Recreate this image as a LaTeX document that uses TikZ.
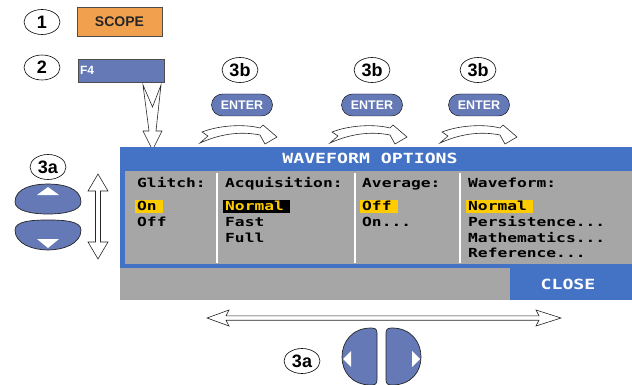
\documentclass[tikz,border=0pt]{standalone}
\usepackage{fontspec}
\setmainfont{Liberation Sans}
\newfontfamily\lcdfont{DejaVu Sans Mono}[FakeStretch=1.3]
\usetikzlibrary{shapes.geometric}
\definecolor{keyblue}{RGB}{100,121,181}
\definecolor{keyorange}{RGB}{241,160,78}
\definecolor{scrblue}{RGB}{68,114,196}
\definecolor{scrgray}{RGB}{166,166,166}
\definecolor{hlyellow}{RGB}{255,204,0}
\tikzset{
  stepmark/.style={ellipse,draw,semithick,fill=white,minimum width=36pt,minimum height=25pt,inner sep=0pt,font=\fontsize{18}{18}\selectfont\bfseries},
  enterkey/.style={draw,fill=keyblue,rounded corners=11pt,minimum width=61pt,minimum height=22pt,inner sep=0pt,text=white,font=\fontsize{12.5}{12.5}\selectfont\bfseries},
  hollow/.style={draw=black!85,fill=white,line width=0.6pt,line join=miter},
  navkey/.style={draw=black!85,fill=keyblue,line width=0.7pt},
  lcd/.style={anchor=base west,inner xsep=2.5pt,inner ysep=0pt,text height=11.3pt,text depth=1.7pt,font=\lcdfont\fontsize{12.5}{14}\selectfont\bfseries},
  hl/.style={lcd,fill=hlyellow,execute at end node=\kern4pt},
  bentarrow/.pic={\draw[hollow](2,7)..controls(20,0)and(45,-1)..(60,3)--(63,0)--(77,12)--(65,19)--(60,10)..controls(40,6)and(20,9)..(0,18)--(8,11)--cycle;}
}
\begin{document}
\begin{tikzpicture}[x=1pt,y=-1pt]
  \useasboundingbox(0,0)rectangle(632,385);

  \node[stepmark](one)at(42,22){1};
  \node[draw=black!70,fill=keyorange,minimum width=85pt,minimum height=29pt,inner sep=0pt,text=black!85,font=\fontsize{14}{14}\selectfont\bfseries](scope)at(119.5,21.5){SCOPE};
  \node[stepmark](two)at(42,67.5){2};
  \node[draw=black!70,fill=keyblue,minimum width=86pt,minimum height=23pt,inner sep=0pt](ffour)at(121,70.5){};
  \node[anchor=west,inner sep=2pt,text=white,font=\fontsize{12}{12}\selectfont\bfseries](ffourlabel)at(ffour.west){F4};
  \draw[hollow](143,85)--(152.5,107)--(161,85)--(156,131)--(162,131)--(152.5,150)--(143,131)--(149,131)--cycle;

  \node[stepmark](stepb1)at(240,70){3b};
  \node[stepmark](stepb2)at(372,70){3b};
  \node[stepmark](stepb3)at(478,70){3b};
  \node[enterkey](enter1)at(242,105){ENTER};
  \node[enterkey](enter2)at(372,105){ENTER};
  \node[enterkey](enter3)at(479,105){ENTER};
  \pic at(200,125){bentarrow};
  \pic at(330,125){bentarrow};
  \pic at(440,125){bentarrow};

  % screen
  \fill[scrblue](120,147)rectangle(632,268);
  \fill[scrgray](125,171)rectangle(632,264);
  \fill[scrgray](120,268)rectangle(510,300);
  \fill[scrblue](510,268)rectangle(632,300);
  \draw[white,line width=2pt](217,173)--(217,263) (355,173)--(355,263) (460,173)--(460,263);
  \node[lcd,anchor=center,text=white,font=\lcdfont\fontsize{14}{14}\selectfont\bfseries](title)at(370,159){WAVEFORM OPTIONS};
  \node[lcd,anchor=center,text=white,font=\lcdfont\fontsize{14}{14}\selectfont\bfseries](close)at(568,285){CLOSE};

  \node[lcd](glitch)at(134.5,187){Glitch:};
  \node[hl](glitchon)at(134.5,211){On};
  \node[lcd](glitchoff)at(134.5,226.5){Off};
  \node[lcd](acq)at(222.5,187){Acquisition:};
  \node[hl,fill=black,text=hlyellow](acqnormal)at(222.5,211){Normal};
  \node[lcd](acqfast)at(222.5,226.5){Fast};
  \node[lcd](acqfull)at(222.5,242){Full};
  \node[lcd](avg)at(359.5,187){Average:};
  \node[hl](avgoff)at(359.5,211){Off};
  \node[lcd](avgon)at(359.5,226.5){On...};
  \node[lcd](wave)at(465.5,187){Waveform:};
  \node[hl](wavenormal)at(465.5,211){Normal};
  \node[lcd](wavepers)at(465.5,226.5){Persistence...};
  \node[lcd](wavemath)at(465.5,242){Mathematics...};
  \node[lcd](waveref)at(465.5,257.5){Reference...};

  % up / down keys
  \node[stepmark](stepa1)at(48,167){3a};
  \draw[navkey](15,202)..controls(15,188)and(33,184)..(48,184)..controls(63,184)and(81,188)..(81,202)..controls(81,211)and(64,214)..(48,214)..controls(32,214)and(15,211)..(15,202);
  \fill[white](37,195)--(48,187)--(59,195)--cycle;
  \draw[navkey](15,230)..controls(15,221)and(32,220)..(48,220)..controls(64,220)and(81,221)..(81,230)..controls(81,244)and(63,250)..(48,250)..controls(33,250)and(15,244)..(15,230);
  \fill[white](37,239)--(48,248)--(59,239)--cycle;
  \draw[hollow](98,174)--(108,191)--(100.5,191)--(100.5,242)--(108,242)--(98,259)--(88,242)--(95.5,242)--(95.5,191)--(88,191)--cycle;

  % left / right keys
  \draw[hollow](207,318)--(229,310)--(226,315.8)--(539,315.8)--(536,310)--(561,318)--(536,326)--(539,320.2)--(226,320.2)--(229,326)--cycle;
  \node[stepmark](stepa2)at(302,361){3a};
  \draw[navkey](377,333)..controls(377,329)and(375,328)..(371,328)..controls(352,328)and(342,342)..(342,357)..controls(342,372)and(352,385)..(371,385)..controls(375,385)and(377,384)..(377,380)--cycle;
  \fill[white](343,359)--(351,351)--(351,367)--cycle;
  \draw[navkey](386,333)..controls(386,329)and(388,328)..(392,328)..controls(411,328)and(421,342)..(421,357)..controls(421,372)and(411,385)..(392,385)..controls(388,385)and(386,384)..(386,380)--cycle;
  \fill[white](420,359)--(412,351)--(412,367)--cycle;
\end{tikzpicture}
\end{document}
